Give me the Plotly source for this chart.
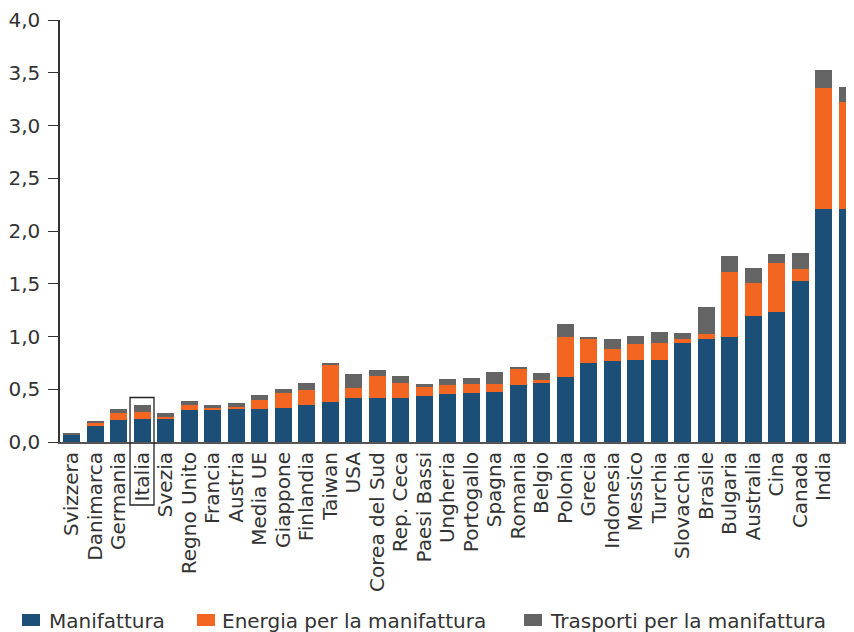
import plotly.graph_objects as go

categories = ["Svizzera", "Danimarca", "Germania", "Italia", "Svezia", "Regno Unito", "Francia",
              "Austria", "Media UE", "Giappone", "Finlandia", "Taiwan", "USA", "Corea del Sud",
              "Rep. Ceca", "Paesi Bassi", "Ungheria", "Portogallo", "Spagna", "Romania", "Belgio",
              "Polonia", "Grecia", "Indonesia", "Messico", "Turchia", "Slovacchia", "Brasile",
              "Bulgaria", "Australia", "Cina", "Canada", "India", "Russia"]

manifattura = [0.073, 0.155, 0.21, 0.22, 0.22, 0.304, 0.304, 0.314, 0.314, 0.323, 0.351, 0.378,
               0.415, 0.415, 0.415, 0.434, 0.453, 0.462, 0.472, 0.538, 0.556, 0.62, 0.75, 0.768,
               0.778, 0.778, 0.937, 0.974, 0.993, 1.199, 1.237, 1.527, 2.204, 2.213]
energia = [0.0, 0.028, 0.066, 0.066, 0.019, 0.047, 0.019, 0.019, 0.084, 0.14, 0.14, 0.356,
           0.094, 0.215, 0.14, 0.084, 0.084, 0.084, 0.075, 0.16, 0.028, 0.375, 0.234, 0.112,
           0.15, 0.159, 0.037, 0.047, 0.618, 0.309, 0.459, 0.112, 1.152, 1.009]
trasporti = [0.007, 0.01, 0.037, 0.066, 0.037, 0.037, 0.028, 0.037, 0.047, 0.037, 0.066, 0.009,
             0.14, 0.056, 0.066, 0.028, 0.056, 0.056, 0.112, 0.009, 0.066, 0.12, 0.01, 0.094,
             0.075, 0.103, 0.056, 0.262, 0.15, 0.14, 0.084, 0.15, 0.169, 0.14]

series_names = ["Manifattura", "Energia per la manifattura", "Trasporti per la manifattura"]
colors = ["#1b4f78", "#f36621", "#646464"]

FONT = "DejaVu Sans"
TXT = "#333333"

# the page body has an 8px margin; size the figure so the plot sits where the reference has it
OFF = 8
W, H = 854 - OFF, 632 - OFF
ML, MR, MT = 60 - OFF, 0, 20 - OFF
MB = H - (442 - OFF)
PW, PH = W - ML - MR, H - MT - MB


def px_x(p):
    return (p - OFF - ML) / PW


def px_y(p):
    return (H - MB - (p - OFF)) / PH


fig = go.Figure()
xs = list(range(len(categories)))
for name, vals, col in zip(series_names, [manifattura, energia, trasporti], colors):
    fig.add_trace(go.Bar(x=xs, y=vals, name=name, showlegend=False,
                         marker=dict(color=col, line=dict(width=0))))

xmin, xmax = -0.5, 33.29
ymin, ymax = 0, 4

# box around Italia (bar + label)
idx = categories.index("Italia")
tot = manifattura[idx] + energia[idx] + trasporti[idx]
bx0 = (idx - 0.52 - xmin) / (xmax - xmin)
bx1 = (idx + 0.50 - xmin) / (xmax - xmin)
by1 = (tot + 0.07) / (ymax - ymin)
fig.add_shape(type="rect", xref="paper", yref="paper", x0=bx0, x1=bx1, y0=px_y(505), y1=by1,
              line=dict(color="#222222", width=1.3), fillcolor="rgba(0,0,0,0)")

# manual legend
legend_swatch_px = [22, 197, 524]
legend_text_px = [47, 220, 548]
for name, col, sx, tx in zip(series_names, colors, legend_swatch_px, legend_text_px):
    fig.add_shape(type="rect", xref="paper", yref="paper",
                  x0=px_x(sx), x1=px_x(sx + 18), y0=px_y(626), y1=px_y(614),
                  line=dict(width=0), fillcolor=col)
    fig.add_annotation(xref="paper", yref="paper", x=px_x(tx), y=px_y(620.5),
                       xanchor="left", yanchor="middle", text=name, showarrow=False,
                       font=dict(family=FONT, size=20, color=TXT))

fig.update_layout(
    width=W, height=H,
    barmode="stack", bargap=0.28,
    separators=",.",
    paper_bgcolor="white", plot_bgcolor="white",
    margin=dict(l=ML, r=MR, t=MT, b=MB),
    font=dict(family=FONT, size=20, color=TXT),
    showlegend=False,
    xaxis=dict(tickmode="array", tickvals=xs, ticktext=categories, tickangle=-90,
               range=[xmin, xmax], showline=True, linecolor="#555555", linewidth=2,
               ticks="", showgrid=False, zeroline=False, automargin=False,
               tickfont=dict(family=FONT, size=20, color=TXT)),
    yaxis=dict(range=[ymin, ymax], dtick=0.5, tickformat=".1f", showline=True,
               linecolor="#333333", linewidth=1.5, ticks="outside", ticklen=10,
               tickcolor="#333333", tickwidth=1.3, showgrid=False, zeroline=False,
               automargin=False, ticklabelstandoff=4, ticklabeloverflow="allow",
               tickfont=dict(family=FONT, size=20, color=TXT)),
)

fig.write_html("out.html")
